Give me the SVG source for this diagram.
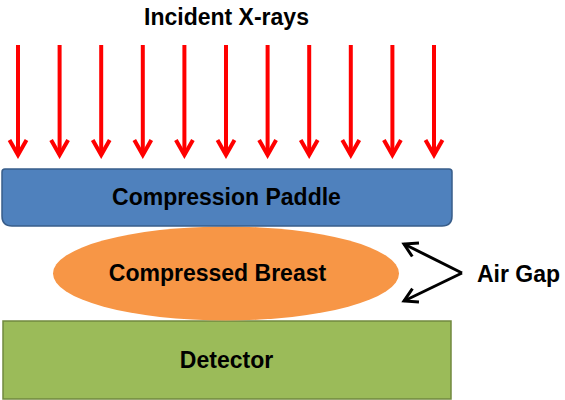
<svg xmlns="http://www.w3.org/2000/svg" width="565" height="400" viewBox="0 0 565 400">
<style>
text{font-family:"Liberation Sans",Arial,sans-serif;font-weight:bold;font-size:23px;fill:#000}
.ray{stroke:#FF0000;stroke-width:4;fill:none}
.gap{stroke:#000;stroke-width:3;fill:none}
</style>
<defs>
<marker id="redHead" viewBox="-20 -12 24 24" refX="0" refY="0" markerWidth="24" markerHeight="24" markerUnits="userSpaceOnUse" orient="auto">
<path d="M-15,-8.5 L0,0 L-15,8.5" fill="none" stroke="#FF0000" stroke-width="4"/>
</marker>
<marker id="blackHead" viewBox="-18 -12 22 24" refX="0" refY="0" markerWidth="22" markerHeight="24" markerUnits="userSpaceOnUse" orient="auto">
<path d="M-13,-7.5 L0,0 L-13,7.5" fill="none" stroke="#000" stroke-width="3"/>
</marker>
</defs>
<rect width="565" height="400" fill="#fff"/>
<text id="title" x="226.5" y="25" text-anchor="middle">Incident X-rays</text>
<g id="detector">
<rect x="3" y="321" width="448" height="78" fill="#9BBB59" stroke="#71893F" stroke-width="1.5"/>
<text x="226.5" y="368" text-anchor="middle">Detector</text>
</g>
<g id="breast">
<ellipse cx="226" cy="273.5" rx="173" ry="47" fill="#F79646"/>
<text x="217.5" y="281" text-anchor="middle">Compressed Breast</text>
</g>
<g id="paddle">
<path d="M5,169 H449 Q452,169 452,172 V216 Q452,226 442,226 H12 Q2,226 2,216 V172 Q2,169 5,169 Z" fill="#4F81BD" stroke="#385D8A" stroke-width="1.5"/>
<text x="226.5" y="205" text-anchor="middle">Compression Paddle</text>
</g>
<g id="airgap-label">
<text x="477" y="282">Air Gap</text>
</g>
<g id="connectors">
<line class="ray" x1="18" y1="45" x2="18" y2="155" marker-end="url(#redHead)"/>
<line class="ray" x1="59.6" y1="45" x2="59.6" y2="155" marker-end="url(#redHead)"/>
<line class="ray" x1="101.2" y1="45" x2="101.2" y2="155" marker-end="url(#redHead)"/>
<line class="ray" x1="142.8" y1="45" x2="142.8" y2="155" marker-end="url(#redHead)"/>
<line class="ray" x1="184.4" y1="45" x2="184.4" y2="155" marker-end="url(#redHead)"/>
<line class="ray" x1="226" y1="45" x2="226" y2="155" marker-end="url(#redHead)"/>
<line class="ray" x1="267.6" y1="45" x2="267.6" y2="155" marker-end="url(#redHead)"/>
<line class="ray" x1="309.2" y1="45" x2="309.2" y2="155" marker-end="url(#redHead)"/>
<line class="ray" x1="350.8" y1="45" x2="350.8" y2="155" marker-end="url(#redHead)"/>
<line class="ray" x1="392.4" y1="45" x2="392.4" y2="155" marker-end="url(#redHead)"/>
<line class="ray" x1="434" y1="45" x2="434" y2="155" marker-end="url(#redHead)"/>
<line class="gap" x1="462" y1="273" x2="404" y2="244" marker-end="url(#blackHead)"/>
<line class="gap" x1="462" y1="273" x2="404" y2="301" marker-end="url(#blackHead)"/>
</g>
</svg>
